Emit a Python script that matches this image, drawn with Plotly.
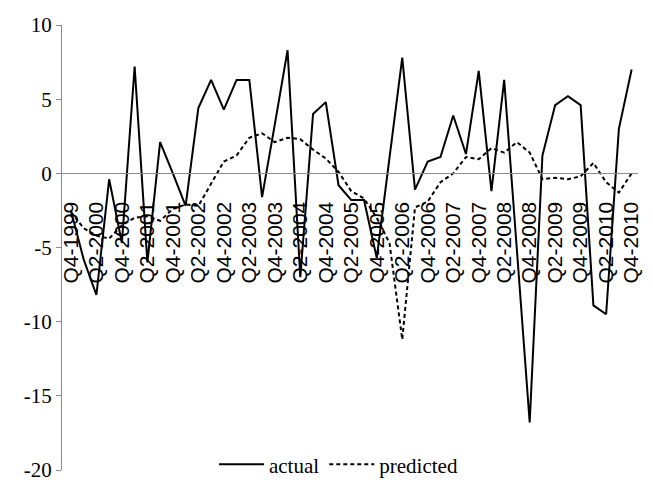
import plotly.graph_objects as go

quarters = [
    "Q4-1999",
    "Q1-2000", "Q2-2000", "Q3-2000", "Q4-2000",
    "Q1-2001", "Q2-2001", "Q3-2001", "Q4-2001",
    "Q1-2002", "Q2-2002", "Q3-2002", "Q4-2002",
    "Q1-2003", "Q2-2003", "Q3-2003", "Q4-2003",
    "Q1-2004", "Q2-2004", "Q3-2004", "Q4-2004",
    "Q1-2005", "Q2-2005", "Q3-2005", "Q4-2005",
    "Q1-2006", "Q2-2006", "Q3-2006", "Q4-2006",
    "Q1-2007", "Q2-2007", "Q3-2007", "Q4-2007",
    "Q1-2008", "Q2-2008", "Q3-2008", "Q4-2008",
    "Q1-2009", "Q2-2009", "Q3-2009", "Q4-2009",
    "Q1-2010", "Q2-2010", "Q3-2010", "Q4-2010",
]

actual = [
    -2.5, -5.8, -8.2, -0.4, -4.7, 7.2, -6.0, 2.1, 0.0, -2.2,
    4.4, 6.3, 4.3, 6.3, 6.3, -1.6, 3.3, 8.3, -7.0, 4.0,
    4.8, -0.8, -1.8, -1.8, -5.7, 1.1, 7.8, -1.1, 0.8, 1.1,
    3.9, 1.3, 6.9, -1.2, 6.3, -5.2, -16.8, 1.2, 4.6, 5.2,
    4.6, -8.9, -9.5, 3.0, 7.0,
]

predicted = [
    -2.6, -3.7, -4.2, -4.4, -3.5, -3.0, -2.9, -3.2, -2.4, -2.1,
    -2.2, -0.7, 0.8, 1.2, 2.4, 2.7, 2.1, 2.4, 2.3, 1.6,
    1.0, 0.1, -1.2, -1.7, -3.0, -4.7, -11.2, -2.3, -1.9, -0.6,
    0.0, 1.1, 0.95, 1.7, 1.4, 2.1, 1.4, -0.4, -0.3, -0.4,
    -0.2, 0.7, -0.6, -1.3, 0.0,
]

x_tick_labels = quarters[::2]
y_tick_values = [-20, -15, -10, -5, 0, 5, 10]
y_tick_labels = ["-20", "-15", "-10", "-5", "0", "5", "10"]

SERIF = "Liberation Serif"
SANS = "Liberation Sans"

fig = go.Figure()
fig.add_trace(go.Scatter(
    x=quarters, y=actual, mode="lines", name="actual",
    line=dict(color="black", width=2),
))
fig.add_trace(go.Scatter(
    x=quarters, y=predicted, mode="lines", name="predicted",
    line=dict(color="black", width=2, dash="4px,3px"),
))

fig.update_layout(
    width=653, height=497,
    margin=dict(l=62, r=15, t=25, b=22),
    paper_bgcolor="white", plot_bgcolor="white",
    showlegend=True,
    font=dict(family=SERIF, color="black"),
    legend=dict(
        orientation="h", x=0.48, xanchor="center", y=0.012, yanchor="middle",
        font=dict(family=SERIF, size=21, color="black"),
        bgcolor="rgba(0,0,0,0)", itemwidth=45,
    ),
)

fig.update_xaxes(
    type="category",
    categoryorder="array", categoryarray=quarters,
    range=[-0.7, 44.5],
    anchor="free", position=2 / 3,
    showline=True, linecolor="#8c8c8c", linewidth=1,
    showgrid=False, zeroline=False,
    ticks="outside", ticklen=19, tickcolor="rgba(0,0,0,0)",
    tickangle=-90,
    tickmode="array", tickvals=x_tick_labels, ticktext=x_tick_labels,
    tickfont=dict(family=SANS, size=21, color="black"),
)

fig.update_yaxes(
    range=[-20, 10],
    showline=True, linecolor="#8c8c8c", linewidth=1,
    showgrid=False, zeroline=False,
    ticks="outside", ticklen=5, tickcolor="#8c8c8c",
    tickmode="array", tickvals=y_tick_values, ticktext=y_tick_labels,
    ticklabelstandoff=0,
    tickfont=dict(family=SERIF, size=21, color="black"),
)

fig.write_html("out.html")
